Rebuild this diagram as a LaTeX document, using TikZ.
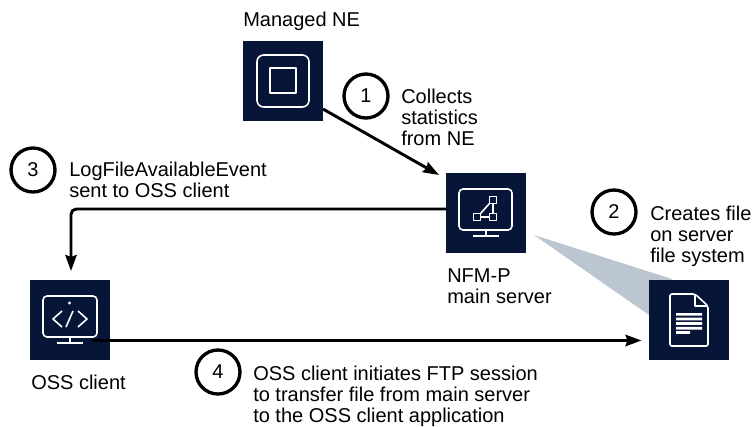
\documentclass[tikz,border=0pt]{standalone}
\usepackage{fontspec}
\setmainfont{Liberation Sans}
\usetikzlibrary{arrows.meta}
\definecolor{navy}{HTML}{061538}
\definecolor{wedge}{HTML}{BCC6D1}
\tikzset{
    iconbox/.style={fill=navy,draw=none,minimum size=60pt,inner sep=0pt,outer sep=0pt},
    icon/.style={draw=white,line width=1.2pt,line join=round},
    badge/.style={circle,draw=black,line width=2.5pt,minimum size=33pt,inner sep=0pt,font=\fontsize{15}{15}\selectfont},
    note/.style={anchor=north west,align=left,inner sep=0pt,font=\fontsize{15}{15.8}\selectfont},
    link/.style={-{Stealth[length=12pt,width=8.5pt,inset=1.5pt]},line width=2.2pt,black},
}
\begin{document}
\begin{tikzpicture}[x=.75pt,y=-.75pt,line join=round]
    \useasboundingbox (0,0) rectangle (753,426);
    % wedge
    \fill[wedge] (534,235) -- (672,279) -- (649,315) -- cycle;
    % boxes
    \node[iconbox] (ne) at (283,81) {};
    \node[iconbox] (server) at (486,213) {};
    \node[iconbox] (file) at (689,320) {};
    \node[iconbox] (client) at (70,320) {};
    % link ends
    \coordinate (neout) at (323,109);
    \coordinate (serverin) at (439,175);
    \coordinate (serverout) at (446,209);
    \coordinate (clientin) at (71,271);
    \coordinate (clientout) at (92,340.5);
    \coordinate (filein) at (641.5,340.5);
    % managed NE icon
    \draw[icon,rounded corners=5pt] (257,55) rectangle (309,107);
    \draw[icon] (270,68) rectangle (296,93);
    % server icon
    \draw[icon,rounded corners=3pt] (459,189) rectangle (512,230);
    \draw[icon] (486,230) -- (486,236) (473,236) -- (499,236);
    \draw[icon] (489.5,203.5) -- (480.5,213.5) (480.5,217) -- (489.5,217) (493,203.5) -- (493,213.5);
    \draw[icon] (489.5,196.5) rectangle (496.5,203.5) (473.5,213.5) rectangle (480.5,220.5) (489.5,213.5) rectangle (496.5,220.5);
    % file icon
    \draw[icon,rounded corners=1.5pt] (695,294) -- (670,294) -- (670,346) -- (708,346) -- (708,306) -- cycle;
    \draw[icon] (695,294) -- (695,306) -- (708,306);
    \fill[white] (676,313) rectangle (702,315.7) (676,317.6) rectangle (702,320.3)
        (676,322.2) rectangle (702,324.9) (676,326.8) rectangle (702,329.5) (676,331.2) rectangle (690,333.9);
    % client icon
    \draw[icon,rounded corners=3pt] (43,296) rectangle (97,337);
    \draw[icon] (70,337) -- (70,343) (57,343) -- (83,343);
    \fill[white] (69.5,303) circle (1.3pt);
    \draw[icon] (62,311) -- (53,319) -- (62,327) (73,311) -- (66,327) (78,311) -- (87,319) -- (78,327);
    % links
    \draw[link] (neout) -- (serverin);
    \draw[link,rounded corners=4pt] (serverout) -- (clientin |- serverout) -- (clientin);
    \draw[link] (clientout) -- (filein);
    % badges
    \node[badge] (one) at (366,96) {1};
    \node[badge] (two) at (614,212) {2};
    \node[badge] (three) at (33,170) {3};
    \node[badge] (four) at (218,372) {4};
    % labels
    \node[note] (nelabel) at (243,11.5) {Managed NE};
    \node[note] (onelabel) at (401,88.5) {Collects\\statistics\\from NE};
    \node[note] (threelabel) at (69,161.5) {LogFileAvailableEvent\\sent to OSS client};
    \node[note] (serverlabel) at (447,268.5) {NFM-P\\main server};
    \node[note] (twolabel) at (650,205.5) {Creates file\\on server\\file system};
    \node[note] (clientlabel) at (31,374.5) {OSS client};
    \node[note] (fourlabel) at (253,365.5) {OSS client initiates FTP session\\to transfer file from main server\\to the OSS client application};
\end{tikzpicture}
\end{document}
